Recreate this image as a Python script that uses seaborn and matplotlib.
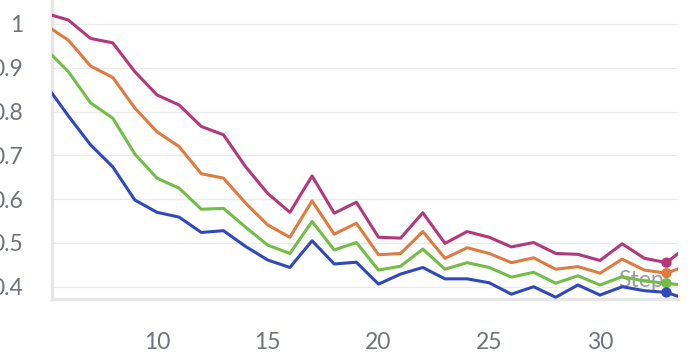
import numpy as np
import pandas as pd
import matplotlib
matplotlib.use("Agg")
import matplotlib.pyplot as plt
import seaborn as sns

# data
steps = list(range(5, 35))
run_pink = [1.024, 1.009, 0.967, 0.957, 0.891, 0.838, 0.815, 0.766, 0.747, 0.674,
            0.613, 0.570, 0.653, 0.568, 0.593, 0.513, 0.511, 0.569, 0.499, 0.526,
            0.513, 0.491, 0.501, 0.476, 0.474, 0.460, 0.498, 0.465, 0.455, 0.495]
run_orange = [0.997, 0.963, 0.904, 0.878, 0.808, 0.754, 0.720, 0.658, 0.648, 0.591,
              0.541, 0.513, 0.596, 0.520, 0.545, 0.473, 0.476, 0.526, 0.465, 0.489,
              0.476, 0.455, 0.466, 0.440, 0.446, 0.431, 0.463, 0.438, 0.431, 0.450]
run_green = [0.942, 0.891, 0.820, 0.785, 0.703, 0.648, 0.625, 0.577, 0.579, 0.536,
             0.495, 0.476, 0.549, 0.484, 0.501, 0.438, 0.447, 0.486, 0.440, 0.455,
             0.444, 0.422, 0.433, 0.408, 0.425, 0.404, 0.423, 0.413, 0.408, 0.402]
run_blue = [0.860, 0.790, 0.724, 0.674, 0.598, 0.570, 0.559, 0.524, 0.528, 0.492,
            0.461, 0.444, 0.505, 0.452, 0.456, 0.406, 0.429, 0.444, 0.418, 0.418,
            0.409, 0.383, 0.400, 0.376, 0.404, 0.381, 0.400, 0.391, 0.387, 0.370]
hover_step = 33

x_ticks = [10, 15, 20, 25, 30]
y_ticks = [0.4, 0.5, 0.6, 0.7, 0.8, 0.9, 1.0]
y_labels = ["0.4", "0.5", "0.6", "0.7", "0.8", "0.9", "1"]

palette = {"pink": "#b5377b", "orange": "#e07a3e", "green": "#72bd45", "blue": "#3048be"}

df = pd.DataFrame({"step": steps, "pink": run_pink, "orange": run_orange,
                   "green": run_green, "blue": run_blue})
long = df.melt(id_vars="step", var_name="run", value_name="value")
hover = long[long["step"] == hover_step]

sns.set_style("white")
plt.rcParams["font.family"] = ["Lato", "DejaVu Sans"]

fig = plt.figure(figsize=(6.98, 3.6), dpi=100)
ax = fig.add_axes([52 / 698, 61 / 360, 626 / 698, 299 / 360])

# x axis title sits inside the plot, behind the lines
ax.text(0.941, 0.04, "Step", transform=ax.transAxes, ha="center", va="baseline",
        fontsize=16.5, color="#979ba3", zorder=1)

sns.lineplot(data=long, x="step", y="value", hue="run", palette=palette,
             linewidth=2.2, legend=False, ax=ax, zorder=3)
sns.scatterplot(data=hover, x="step", y="value", hue="run", palette=palette,
                s=55, linewidth=0, legend=False, ax=ax, zorder=4)

ax.set_xlim(5.26, 33.52)
ax.set_ylim(0.372, 1.0548)
ax.set_xticks(x_ticks)
ax.set_yticks(y_ticks)
ax.set_yticklabels(y_labels)
ax.set_xlabel("")
ax.set_ylabel("")

ax.grid(axis="y", color="#ebebeb", linewidth=0.9)
ax.grid(axis="x", visible=False)
ax.set_axisbelow(True)

for side in ["top", "right"]:
    ax.spines[side].set_visible(False)
for side in ["left", "bottom"]:
    ax.spines[side].set_color("#e6e6e6")
    ax.spines[side].set_linewidth(2.4)

ax.tick_params(axis="y", direction="inout", length=16.5, width=1.1, color="#e3e3e3",
               pad=12.5, labelsize=16.5, labelcolor="#6e737d")
ax.tick_params(axis="x", direction="inout", length=18, width=1.5, color="#e3e3e3",
               pad=14.5, labelsize=16.5, labelcolor="#6e737d")

fig.savefig("out.png", dpi=100)
plt.close(fig)
